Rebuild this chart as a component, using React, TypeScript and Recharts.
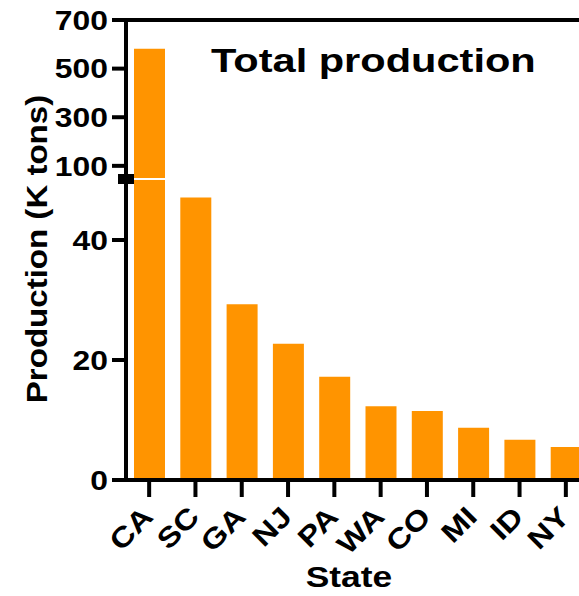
import React from "react"
import { BarChart, Bar, XAxis, YAxis, ReferenceLine, Label } from "recharts"

const states = ["CA", "SC", "GA", "NJ", "PA", "WA", "CO", "MI", "ID", "NY"]
const production = [582, 47.1, 29.3, 22.7, 17.2, 12.3, 11.5, 8.7, 6.7, 5.5]
const lowerTicks = [0, 20, 40]
const upperTicks = [100, 300, 500, 700]
const lowerDomain = [0, 50]
const upperDomain = [50, 700]

const data = states.map((s, i) => ({ state: s, value: production[i] }))

const FONT = "'Liberation Sans', Arial, Helvetica, sans-serif"
const ORANGE = "#FF9400"
const axisStyle = { stroke: "#000", strokeWidth: 4 }

function YTick({ x, y, payload }: any) {
  return (
    <text
      transform={`translate(${x - 2},${y}) scale(1.18,1)`}
      textAnchor="end"
      dy="0.36em"
      fontSize={27}
      fontWeight="bold"
      fontFamily={FONT}
      fill="#000"
    >
      {payload.value}
    </text>
  )
}

function XTick({ x, y, payload }: any) {
  return (
    <text
      transform={`translate(${x + 5.5},${y + 19.5}) rotate(-45) scale(1.18,1)`}
      textAnchor="end"
      fontSize={28}
      fontWeight="bold"
      fontFamily={FONT}
      fill="#000"
    >
      {payload.value}
    </text>
  )
}

export default function App() {
  return (
    <div style={{ position: "absolute", left: 0, top: 0, width: 579, height: 596, overflow: "hidden", background: "#fff" }}>
      {/* upper segment of the broken axis */}
      <div style={{ position: "absolute", left: 0, top: 0 }}>
        <BarChart width={589} height={190} data={data} margin={{ top: 20, right: 0, bottom: 12, left: 0 }} barSize={31}>
          <XAxis dataKey="state" hide />
          <YAxis
            type="number"
            domain={upperDomain}
            ticks={upperTicks}
            allowDataOverflow
            width={126}
            tickSize={14}
            interval={0}
            tick={<YTick />}
            axisLine={axisStyle}
            tickLine={axisStyle}
          />
          <ReferenceLine y={700} stroke="#000" strokeWidth={4} />
          <Bar dataKey="value" fill={ORANGE} isAnimationActive={false} />
        </BarChart>
      </div>

      {/* lower segment */}
      <div style={{ position: "absolute", left: 0, top: 0 }}>
        <BarChart width={589} height={596} data={data} margin={{ top: 180, right: 0, bottom: 0, left: 0 }} barSize={31}>
          <XAxis
            dataKey="state"
            height={116}
            tickSize={17}
            interval={0}
            tick={<XTick />}
            axisLine={axisStyle}
            tickLine={axisStyle}
          >
            <Label
              content={() => (
                <text x={349} y={587} textAnchor="middle" fontSize={29} fontWeight="bold" fontFamily={FONT} fill="#000"
                  transform="translate(349,0) scale(1.22,1) translate(-349,0)">
                  State
                </text>
              )}
            />
          </XAxis>
          <YAxis
            type="number"
            domain={lowerDomain}
            ticks={lowerTicks}
            allowDataOverflow
            width={126}
            tickSize={14}
            interval={0}
            tick={<YTick />}
            axisLine={axisStyle}
            tickLine={axisStyle}
          >
            <Label
              content={() => (
                <text transform="translate(47,249) rotate(-90) scale(1.14,1)" textAnchor="middle" fontSize={29}
                  fontWeight="bold" fontFamily={FONT} fill="#000">
                  Production (K tons)
                </text>
              )}
            />
          </YAxis>
          <Bar dataKey="value" fill={ORANGE} isAnimationActive={false} />
        </BarChart>
      </div>

      {/* break marker on the y axis */}
      <div style={{ position: "absolute", left: 118, top: 174, width: 16, height: 10, background: "#000" }} />

      <svg style={{ position: "absolute", left: 0, top: 0 }} width={579} height={100}>
        <text transform="translate(211,72) scale(1.26,1)" fontSize={33} fontWeight="bold" fontFamily={FONT} fill="#000">
          Total production
        </text>
      </svg>
    </div>
  )
}
